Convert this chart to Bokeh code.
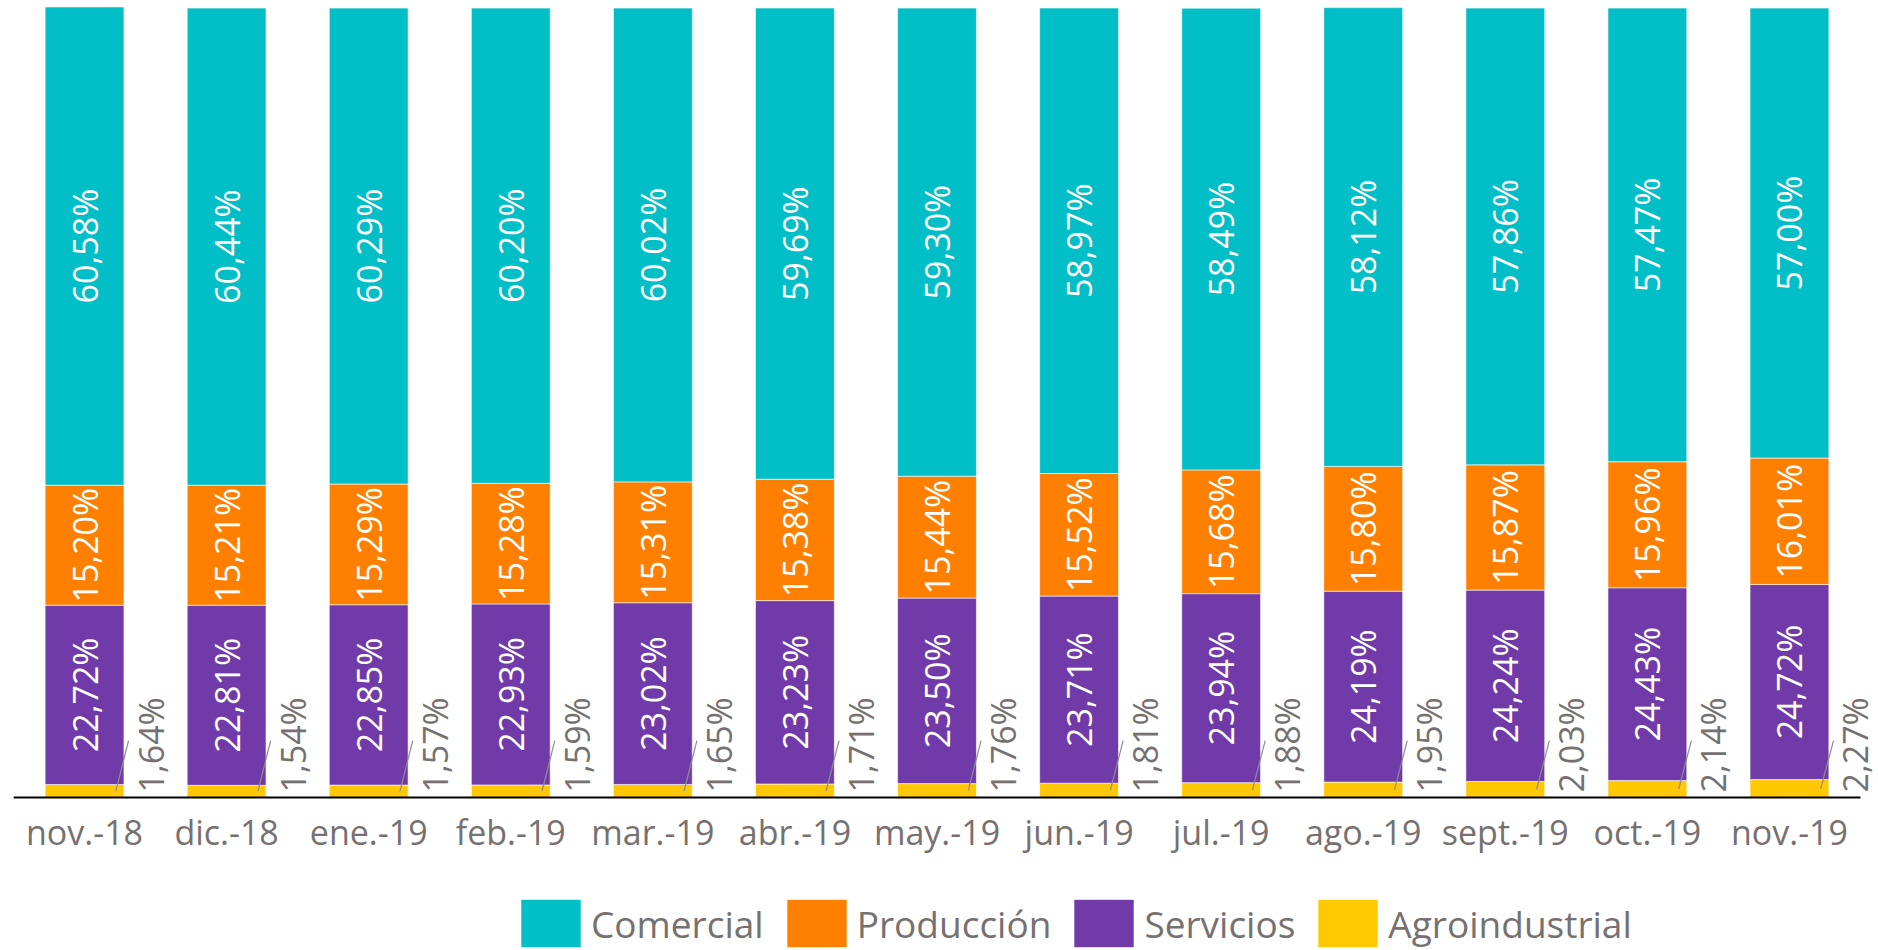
import math
from bokeh.plotting import figure
from bokeh.models import ColumnDataSource, Legend, LegendItem, Range1d, FixedTicker, LabelSet
from bokeh.core.properties import value
from bokeh.embed import file_html
from bokeh.resources import INLINE

months = ["nov.-18", "dic.-18", "ene.-19", "feb.-19", "mar.-19", "abr.-19", "may.-19",
          "jun.-19", "jul.-19", "ago.-19", "sept.-19", "oct.-19", "nov.-19"]
comercial = [60.58, 60.44, 60.29, 60.20, 60.02, 59.69, 59.30, 58.97, 58.49, 58.12, 57.86, 57.47, 57.00]
produccion = [15.20, 15.21, 15.29, 15.28, 15.31, 15.38, 15.44, 15.52, 15.68, 15.80, 15.87, 15.96, 16.01]
servicios = [22.72, 22.81, 22.85, 22.93, 23.02, 23.23, 23.50, 23.71, 23.94, 24.19, 24.24, 24.43, 24.72]
agro = [1.64, 1.54, 1.57, 1.59, 1.65, 1.71, 1.76, 1.81, 1.88, 1.95, 2.03, 2.14, 2.27]

names = ["Comercial", "Producción", "Servicios", "Agroindustrial"]
colors = {"Comercial": "#02BEC6", "Producción": "#FF7F00", "Servicios": "#703BA8", "Agroindustrial": "#FFC800"}

FONT = "Open Sans"
GRAY = "#767171"

def fmt(v):
    return f"{v:.2f}%".replace(".", ",")

# layout (pixels)
W, H = 1878, 950
LEFT, AXIS_RIGHT = 13, 1860
TOP, BASE = 6, 797
Y_END = 100.2
px_per_y = (BASE - TOP) / Y_END
Y_START = -(H - BASE) / px_per_y
n = len(months)
px_per_cat = (AXIS_RIGHT - LEFT) / n
X_START = -0.5
X_END = n - 0.5 + (W - AXIS_RIGHT) / px_per_cat

pos = list(range(n))
src = ColumnDataSource(dict(x=pos, agro=agro, serv=servicios, prod=produccion, com=comercial))

p = figure(x_range=Range1d(X_START, X_END), y_range=Range1d(Y_START, Y_END),
           frame_width=W - LEFT, frame_height=H - TOP,
           output_backend="svg", toolbar_location=None,
           min_border_left=LEFT, min_border_right=0, min_border_top=TOP, min_border_bottom=0)

rs = p.vbar_stack(["agro", "serv", "prod", "com"], x="x", width=0.555, source=src,
                  color=[colors["Agroindustrial"], colors["Servicios"], colors["Producción"], colors["Comercial"]],
                  line_color="white", line_width=0.6)
r_agro, r_serv, r_prod, r_com = rs

# white labels centered inside segments
lab_x, lab_y, lab_t = [], [], []
for i in pos:
    b0 = agro[i]
    b1 = b0 + servicios[i]
    b2 = b1 + produccion[i]
    b3 = b2 + comercial[i]
    for lo, hi, v in ((b0, b1, servicios[i]), (b1, b2, produccion[i]), (b2, b3, comercial[i])):
        lab_x.append(i)
        lab_y.append((lo + hi) / 2)
        lab_t.append(fmt(v))
lsrc = ColumnDataSource(dict(x=lab_x, y=lab_y, t=lab_t))
p.text(x="x", y="y", text="t", source=lsrc, angle=math.pi / 2,
       text_align="center", text_baseline="middle", text_color="white",
       text_font=value(FONT), text_font_size="34px")

# Agroindustrial outside labels with leader lines
asrc = ColumnDataSource(dict(x0=[i + 0.22 for i in pos], y0=[a / 2 for a in agro],
                             x1=[i + 0.31 for i in pos], y1=[7.2] * n,
                             x=pos, zero=[0] * n, t=[fmt(a) for a in agro]))
p.segment(x0="x0", y0="y0", x1="x1", y1="y1",
          source=asrc, line_color="#8c8c8c", line_width=1.2)
p.add_layout(LabelSet(x="x", y="zero", text="t", source=asrc, angle=math.pi / 2,
                      x_offset=66, y_offset=5, text_align="left", text_baseline="middle",
                      text_color=GRAY, text_font=value(FONT), text_font_size="34px"))

p.yaxis.visible = False
p.xgrid.visible = False
p.ygrid.visible = False
p.outline_line_color = None
ax = p.xaxis[0]
ax.fixed_location = 0
ax.bounds = (-0.5, n - 0.5)
ax.ticker = FixedTicker(ticks=pos)
ax.major_label_overrides = {i: m for i, m in zip(pos, months)}
ax.axis_line_color = "black"
ax.axis_line_width = 2
ax.major_tick_line_color = None
ax.minor_tick_line_color = None
ax.major_label_standoff = 5
ax.major_label_text_font = FONT
ax.major_label_text_font_size = "34px"
ax.major_label_text_color = GRAY

legend = Legend(items=[LegendItem(label=names[0], renderers=[r_com]),
                       LegendItem(label=names[1], renderers=[r_prod]),
                       LegendItem(label=names[2], renderers=[r_serv]),
                       LegendItem(label=names[3], renderers=[r_agro])],
                orientation="horizontal", location=(500, -3),
                glyph_width=75, glyph_height=60, label_standoff=3, spacing=15,
                label_text_font=FONT, label_text_font_size="37px", label_text_color=GRAY,
                label_text_baseline="middle",
                border_line_color=None, background_fill_alpha=0, padding=0, margin=0)
p.add_layout(legend, "center")

open("out.html", "w").write(file_html(p, INLINE))
